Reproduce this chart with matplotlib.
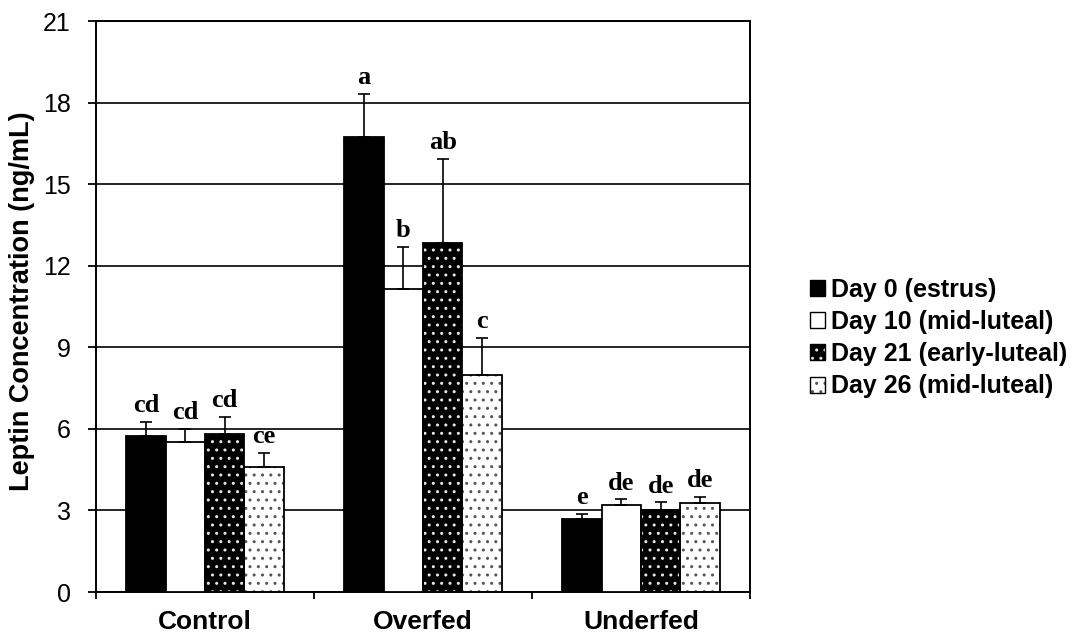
import numpy as np
import matplotlib
matplotlib.use("Agg")
import matplotlib.pyplot as plt
from matplotlib.patches import Patch
from matplotlib.legend_handler import HandlerTuple

# ---- data -------------------------------------------------------------
groups = ["Control", "Overfed", "Underfed"]
series = ["Day 0 (estrus)", "Day 10 (mid-luteal)",
          "Day 21 (early-luteal)", "Day 26 (mid-luteal)"]

# mean leptin concentration (ng/mL), one list per sampling day
day0 = [5.74, 16.74, 2.68]
day10 = [5.52, 11.15, 3.19]
day21 = [5.81, 12.84, 3.00]
day26 = [4.60, 7.98, 3.29]

# upper SEM
sem0 = [0.51, 1.58, 0.20]
sem10 = [0.48, 1.54, 0.22]
sem21 = [0.63, 3.09, 0.30]
sem26 = [0.51, 1.38, 0.22]

# significance letters
let0 = ["cd", "a", "e"]
let10 = ["cd", "b", "de"]
let21 = ["cd", "ab", "de"]
let26 = ["ce", "c", "de"]

yticks = [0, 3, 6, 9, 12, 15, 18, 21]

means = [day0, day10, day21, day26]
sems = [sem0, sem10, sem21, sem26]
letters = [let0, let10, let21, let26]

# ---- styling ----------------------------------------------------------
plt.rcParams["font.family"] = ["Liberation Sans", "DejaVu Sans"]
plt.rcParams["hatch.linewidth"] = 1.0

styles = [
    dict(face="black", hatch=None, hcol="black"),
    dict(face="white", hatch=None, hcol="black"),
    dict(face="black", hatch="..", hcol="#e6e6e6"),
    dict(face="white", hatch="..", hcol="#555555"),
]

fig = plt.figure(figsize=(10.87, 6.36), dpi=100)
ax = fig.add_axes([96 / 1087, 1 - 592 / 636, (750 - 96) / 1087, (592 - 21.3) / 636])

x = np.arange(len(groups))
width = 0.181
offsets = (np.arange(4) - 1.5) * width

for i in range(4):
    st = styles[i]
    xs = x + offsets[i]
    if st["hatch"]:
        ax.bar(xs, means[i], width, color=st["face"], edgecolor=st["hcol"],
               hatch=st["hatch"], linewidth=0, zorder=2)
        ax.bar(xs, means[i], width, fill=False, edgecolor="black",
               linewidth=1.3, zorder=3)
    else:
        ax.bar(xs, means[i], width, color=st["face"], edgecolor="black",
               linewidth=1.3, zorder=3)
    ax.errorbar(xs, means[i], yerr=[np.zeros(3), sems[i]], fmt="none",
                ecolor="black", elinewidth=1.2, capsize=4, capthick=1.2,
                zorder=4)
    for xi, m, s, lab in zip(xs, means[i], sems[i], letters[i]):
        ax.annotate(lab, (xi, m + s), xytext=(0, 7), textcoords="offset points",
                    ha="center", va="baseline", fontsize=19, fontweight="bold",
                    family=["Liberation Serif", "DejaVu Serif"])

# ---- axes -------------------------------------------------------------
ax.set_xlim(-0.5, 2.5)
ax.set_ylim(0, 21)
ax.set_yticks(yticks)
ax.yaxis.grid(True, color="black", linewidth=1.2, zorder=0)
ax.set_axisbelow(True)

ax.set_xticks(x)
ax.set_xticklabels(groups, fontsize=19, fontweight="bold")
ax.set_xticks([-0.5, 0.5, 1.5, 2.5], minor=True)
ax.tick_params(axis="x", which="major", length=0, pad=13)
ax.tick_params(axis="x", which="minor", length=5, width=1.3, direction="out")
ax.tick_params(axis="y", labelsize=18, length=6, width=1.3, direction="out", pad=12)

for sp in ax.spines.values():
    sp.set_linewidth(1.4)
    sp.set_color("black")

ax.set_ylabel("Leptin Concentration (ng/mL)", fontsize=19.5, fontweight="bold")
ax.yaxis.set_label_coords(-0.093, 0.51)

# ---- legend -----------------------------------------------------------
handles = []
for st in styles:
    if st["hatch"]:
        handles.append((Patch(facecolor=st["face"], edgecolor=st["hcol"],
                              hatch=st["hatch"], linewidth=0),
                        Patch(fill=False, edgecolor="black", linewidth=1.0)))
    else:
        handles.append(Patch(facecolor=st["face"], edgecolor="black", linewidth=1.0))
leg = fig.legend(handles, series, loc="center left",
                 bbox_to_anchor=(810 / 1087, 1 - 338 / 636),
                 frameon=False, prop=dict(weight="bold", size=18),
                 handler_map={tuple: HandlerTuple(ndivide=1, pad=0)},
                 handlelength=0.6, handleheight=0.6, handletextpad=0.25,
                 labelspacing=0.33, borderpad=0, borderaxespad=0)

fig.savefig("out.png", dpi=100)
